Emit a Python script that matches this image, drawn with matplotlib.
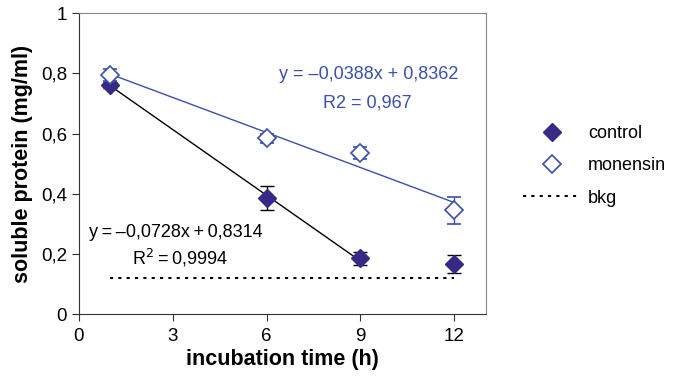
import matplotlib; matplotlib.use("Agg")
import matplotlib.pyplot as plt
import numpy as np
from matplotlib.lines import Line2D

plt.rcParams["font.family"] = ["Liberation Sans", "DejaVu Sans"]

time = [1, 6, 9, 12]
control = [0.76, 0.385, 0.185, 0.165]
control_err = [0.01, 0.04, 0.022, 0.03]
monensin = [0.795, 0.585, 0.535, 0.345]
monensin_err = [0.02, 0.015, 0.02, 0.045]
bkg = 0.12
ctrl_fit = (-0.0728, 0.8314)   # fitted over 1..9 h
mon_fit = (-0.0388, 0.8362)    # fitted over 1..12 h

NAVY = "#372a86"; BLUE = "#3a4fae"; GRAY = "#888888"

fig = plt.figure(figsize=(6.81, 3.77), dpi=100)
ax = fig.add_axes([0.116, 0.167, 0.597, 0.798])

xc = np.array([1, 9]); ax.plot(xc, ctrl_fit[0]*xc + ctrl_fit[1], color="black", lw=1)
xm = np.array([1, 12]); ax.plot(xm, mon_fit[0]*xm + mon_fit[1], color=BLUE, lw=1)
ax.plot([1, 12], [bkg, bkg], color="black", lw=1.5, ls=(0, (1.5, 2.5)))

ax.errorbar(time, control, yerr=control_err, fmt="D", ms=9, color=NAVY, mfc=NAVY, mec=NAVY,
            ecolor="black", elinewidth=1, capsize=5, zorder=5)
ax.errorbar(time, monensin, yerr=monensin_err, fmt="D", ms=9, color=BLUE, mfc="white", mec=BLUE,
            mew=1.2, ecolor=BLUE, elinewidth=1, capsize=5, zorder=6)

fs = 13
ax.text(9.25, 0.797, "y = \u20130,0388x + 0,8362", color=BLUE, fontsize=fs, ha="center", va="center")
ax.text(9.23, 0.703, "R2 = 0,967", color=BLUE, fontsize=fs, ha="center", va="center")
ax.text(3.08, 0.27, "y\u2009=\u2009\u20130,0728x\u2009+\u20090,8314", color="black", fontsize=fs, ha="center", va="center")
ax.text(3.24, 0.188, "R$^2$\u2009=\u20090,9994", color="black", fontsize=fs, ha="center", va="center")

ax.set_xlim(0, 13); ax.set_ylim(0, 1)
ax.set_xticks([0, 3, 6, 9, 12])
ax.set_yticks([0, 0.2, 0.4, 0.6, 0.8, 1])
ax.set_yticklabels(["0", "0,2", "0,4", "0,6", "0,8", "1"])
ax.tick_params(direction="out", length=5, labelsize=13.5, color="#333333")
ax.tick_params(axis="x", pad=5)
for s in ("top", "right"):
    ax.spines[s].set_color(GRAY)
for s in ("left", "bottom"):
    ax.spines[s].set_color("#333333")
ax.set_xlabel("incubation time (h)", fontsize=15.5, fontweight="bold", labelpad=3)
ax.set_ylabel("soluble protein (mg/ml)", fontsize=15.5, fontweight="bold", labelpad=6)

handles = [Line2D([], [], ls="none", marker="D", ms=9, color=NAVY),
           Line2D([], [], ls="none", marker="D", ms=9, mfc="white", mec=BLUE, mew=1.2),
           Line2D([], [], color="black", lw=1.5, ls=(0, (1.5, 2.5)))]
fig.legend(handles, ["control", "monensin", "bkg"], loc="center left", bbox_to_anchor=(0.768, 0.56),
           frameon=False, fontsize=13, handlelength=3.16, labelspacing=0.85, handletextpad=0.45,
           borderpad=0, borderaxespad=0)

fig.savefig("out.png", dpi=100)
